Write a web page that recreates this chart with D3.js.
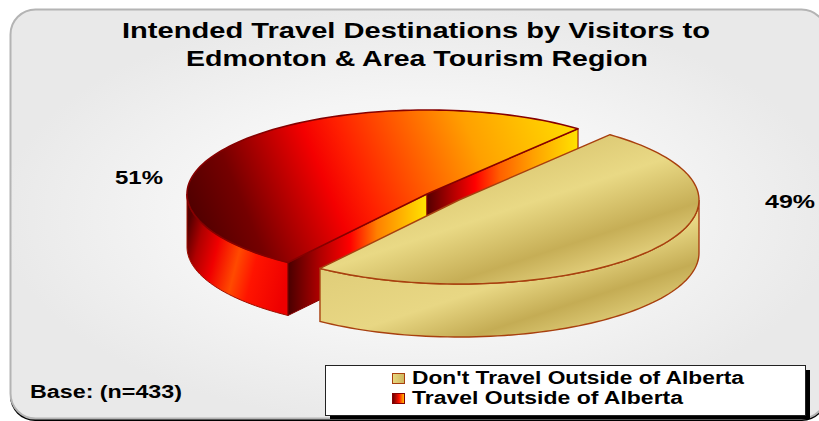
<!DOCTYPE html>
<html>
<head>
<meta charset="utf-8">
<script src="https://cdn.jsdelivr.net/npm/d3@7"></script>
<style>
  html, body { margin: 0; padding: 0; background: #fff; overflow: hidden; }
  text { font-family: "Liberation Sans", Arial, sans-serif; font-weight: bold; fill: #000; }
</style>
</head>
<body>
<svg id="chart" width="819" height="421"></svg>
<script>
// Survey shares, in percent
const categories = ["Don't Travel Outside of Alberta", "Travel Outside of Alberta"];
const shares = [49, 51];
const shareLabels = ["49%", "51%"];
const titleLines = ["Intended Travel Destinations by Visitors to", "Edmonton & Area Tourism Region"];
const baseNote = "Base: (n=433)";

// Tilted pie geometry
const radiusX = 240, radiusY = 84, depth = 53;
const centres = [{ x: 459, y: 200 }, { x: 427, y: 194 }];
const firstSliceStart = 39 * Math.PI / 180;

const svg = d3.select("#chart");
const defs = svg.append("defs");

function linearGradient(id, x1, y1, x2, y2, stops) {
  const g = defs.append("linearGradient").attr("id", id)
    .attr("gradientUnits", "userSpaceOnUse")
    .attr("x1", x1).attr("y1", y1).attr("x2", x2).attr("y2", y2);
  const offset = d3.scaleLinear().domain([stops[0][0], stops[stops.length - 1][0]]).range([0, 1]);
  stops.forEach(s => g.append("stop").attr("offset", offset(s[0])).attr("stop-color", s[1]));
}

// Panel backdrop: pale grey, lighter towards the middle
const backdrop = defs.append("radialGradient").attr("id", "backdrop")
  .attr("gradientUnits", "userSpaceOnUse")
  .attr("cx", 420).attr("cy", 215).attr("r", 420)
  .attr("gradientTransform", "translate(0 107) scale(1 0.5)");
backdrop.append("stop").attr("offset", 0).attr("stop-color", "#fbfbfb");
backdrop.append("stop").attr("offset", 0.55).attr("stop-color", "#f5f5f5");
backdrop.append("stop").attr("offset", 1).attr("stop-color", "#e9e9e9");

// Red slice faces
linearGradient("redTop", 200, 255, 570, 100, [
  [0, "#4a0000"], [0.14, "#750000"], [0.34, "#f40000"], [0.42, "#ff2000"],
  [0.7, "#ffa000"], [0.95, "#ffe000"]
]);
linearGradient("redRim", 186, 235, 292, 262, [
  [186, "#560000"], [200, "#b00000"], [218, "#f00000"], [240, "#ff4a00"], [258, "#ff1400"], [292, "#ee0000"]
]);
linearGradient("redInnerA", 289, 0, 425, 0, [
  [289, "#4c0000"], [320, "#b00000"], [350, "#ff0000"], [377, "#ff8000"], [425, "#ffe000"]
]);
linearGradient("redInnerB", 425, 0, 580, 0, [
  [425, "#4c0000"], [450, "#a80000"], [475, "#ff0000"], [500, "#ff6000"], [533, "#ffa000"], [580, "#ffe600"]
]);

// Ivory slice faces, banded across the surface
linearGradient("ivoryTop", 93, 285, 161, 494, [
  [0, "#d9c570"], [57, "#e9d985"], [109, "#c6ae56"], [140, "#e0cc78"], [220, "#dcc873"]
]);
linearGradient("ivoryRim", 93, 285, 161, 494, [
  [0, "#d9c570"], [125, "#e8d784"], [166, "#c4ac54"], [205, "#e4d27e"], [220, "#dcc873"]
]);

// Legend swatches
const swatchIvory = defs.append("linearGradient").attr("id", "swatchIvory");
swatchIvory.append("stop").attr("offset", 0).attr("stop-color", "#e8d880");
swatchIvory.append("stop").attr("offset", 1).attr("stop-color", "#cdb65e");
const swatchRed = defs.append("linearGradient").attr("id", "swatchRed");
swatchRed.append("stop").attr("offset", 0).attr("stop-color", "#600000");
swatchRed.append("stop").attr("offset", 0.55).attr("stop-color", "#ff1000");
swatchRed.append("stop").attr("offset", 1).attr("stop-color", "#ffd000");

// Panel
svg.append("rect").attr("x", 10).attr("y", 11).attr("width", 817).attr("height", 410)
  .attr("rx", 25).attr("fill", "#000");
svg.append("rect").attr("x", 10.5).attr("y", 9.5).attr("width", 816).attr("height", 409)
  .attr("rx", 25).attr("fill", "url(#backdrop)").attr("stroke", "#b4b4b4").attr("stroke-width", 2);

// Slice angles
const arcs = d3.pie().sort(null)
  .startAngle(firstSliceStart).endAngle(firstSliceStart + 2 * Math.PI)(shares);

const project = (c, a, drop = 0) => {
  const t = a - Math.PI / 2;
  return [c.x + radiusX * Math.cos(t), c.y + radiusY * Math.sin(t) + drop];
};
const sampleAngles = (a0, a1) => {
  const n = Math.max(2, Math.ceil(Math.abs(a1 - a0) / 0.03));
  return d3.range(n + 1).map(i => a0 + (a1 - a0) * i / n);
};
const line = d3.line();

function topFace(c, arc) {
  return line([[c.x, c.y], ...sampleAngles(arc.startAngle, arc.endAngle).map(a => project(c, a))]) + "Z";
}
function rimFace(c, a0, a1) {
  const angles = sampleAngles(a0, a1);
  return line([
    ...angles.map(a => project(c, a)),
    ...angles.slice().reverse().map(a => project(c, a, depth))
  ]) + "Z";
}
function cutFace(c, a) {
  const p = project(c, a);
  return line([[c.x, c.y], p, [p[0], p[1] + depth], [c.x, c.y + depth]]) + "Z";
}

const [ivoryArc, redArc] = arcs;
const [ivoryCentre, redCentre] = centres;
const redStroke = "#860000", ivoryStroke = "#a8400f";
const quarter = Math.PI / 2;

// Red slice: outer wall, the two cut walls, then the top
svg.append("path").attr("d", rimFace(redCentre, redArc.startAngle, 3 * quarter))
  .attr("fill", "url(#redRim)").attr("stroke", "#a01000").attr("stroke-width", 1);
svg.append("path").attr("d", cutFace(redCentre, redArc.startAngle))
  .attr("fill", "url(#redInnerA)").attr("stroke", redStroke).attr("stroke-width", 1);
svg.append("path").attr("d", cutFace(redCentre, redArc.endAngle))
  .attr("fill", "url(#redInnerB)").attr("stroke", redStroke).attr("stroke-width", 1);
svg.append("path").attr("d", topFace(redCentre, redArc))
  .attr("fill", "url(#redTop)").attr("stroke", redStroke).attr("stroke-width", 1.6)
  .attr("stroke-linejoin", "round");

// Ivory slice: outer wall, then the top
svg.append("path").attr("d", rimFace(ivoryCentre, quarter, ivoryArc.endAngle))
  .attr("fill", "url(#ivoryRim)").attr("stroke", ivoryStroke).attr("stroke-width", 1.4);
svg.append("path").attr("d", topFace(ivoryCentre, ivoryArc))
  .attr("fill", "url(#ivoryTop)").attr("stroke", ivoryStroke).attr("stroke-width", 1.4)
  .attr("stroke-linejoin", "round");

// Text helper: stretches each string to its drawn width
function label(str, x, y, size, width) {
  return svg.append("text").text(str)
    .attr("x", x).attr("y", y)
    .attr("font-size", size)
    .attr("textLength", width)
    .attr("lengthAdjust", "spacingAndGlyphs");
}

label(titleLines[0], 122, 38, 22, 588);
label(titleLines[1], 186, 66, 22, 462);
label(shareLabels[1], 115, 184, 19, 48);
label(shareLabels[0], 765, 208, 19, 50);
label(baseNote, 30, 398, 17.5, 152);

// Legend
svg.append("rect").attr("x", 330).attr("y", 370).attr("width", 480).attr("height", 49).attr("fill", "#000");
svg.append("rect").attr("x", 325.5).attr("y", 365.5).attr("width", 480).attr("height", 50)
  .attr("fill", "#fff").attr("stroke", "#222").attr("stroke-width", 1);

const legendRows = [
  { swatchY: 373, baseline: 384, width: 332, fill: "url(#swatchIvory)", stroke: ivoryStroke },
  { swatchY: 393, baseline: 404, width: 271, fill: "url(#swatchRed)", stroke: redStroke }
];
categories.forEach((name, i) => {
  const row = legendRows[i];
  svg.append("rect").attr("x", 392.5).attr("y", row.swatchY + 0.5).attr("width", 12).attr("height", 10)
    .attr("fill", row.fill).attr("stroke", row.stroke).attr("stroke-width", 1);
  label(name, 412, row.baseline, 18, row.width);
});
</script>
</body>
</html>
